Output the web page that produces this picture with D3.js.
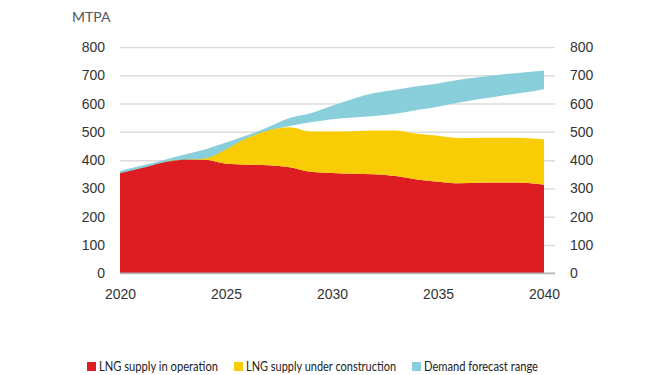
<!DOCTYPE html>
<html>
<head>
<meta charset="utf-8">
<script src="https://cdn.jsdelivr.net/npm/d3@7"></script>
<style>
  body { margin: 0; background: #fff; }
  svg { display: block; font-family: Lato, "Noto Sans", sans-serif; }
  .axis path { display: none; }
  .axis text { fill: #333; font-size: 14px; }
</style>
</head>
<body>
<div id="chart"></div>
<script>
const years = d3.range(2020, 2041);
const supplyInOperation = [354, 371, 391, 401, 401, 387, 384, 382, 375, 359, 355, 352, 350, 344, 332, 324, 318, 320, 321, 320, 313];
const supplyUnderConstruction = [0, 0, 0, 0, 5, 51, 94, 123, 141, 142, 146, 150, 155, 161, 161, 162, 160, 159, 158, 158, 161];
const demandLow = [350, 366, 386, 398, 402, 432, 474, 503, 521, 534, 545, 551, 556, 564, 577, 589, 604, 616, 628, 638, 651];
const demandHigh = [362, 380, 399, 419, 438, 462, 488, 517, 549, 566, 592, 617, 637, 649, 661, 671, 684, 694, 703, 710, 717];
const yTicks = [0, 100, 200, 300, 400, 500, 600, 700, 800];
const xTicks = [2020, 2025, 2030, 2035, 2040];
const legendLabels = ['LNG supply in operation', 'LNG supply under construction', 'Demand forecast range'];

const width = 667;
const height = 375;
const colors = { operation: '#dd1d21', construction: '#f8cd06', demand: '#89cfdb' };

const svg = d3.select('#chart').append('svg').attr('width', width).attr('height', height);

const x = d3.scaleLinear().domain([2020, 2040]).range([120, 544]);
const y = d3.scaleLinear().domain([0, 800]).range([273.3, 47]);
const gridRight = 555;

// grid + left axis
const leftAxis = svg.append('g')
    .attr('class', 'axis')
    .attr('transform', 'translate(120,0)')
    .call(d3.axisLeft(y).tickValues(yTicks).tickSize(-(gridRight - 120)).tickPadding(15));
leftAxis.selectAll('line').attr('stroke', '#dcdcdc').attr('stroke-width', 1.5);

svg.append('g')
    .attr('class', 'axis')
    .attr('transform', `translate(${gridRight},0)`)
    .call(d3.axisRight(y).tickValues(yTicks).tickSize(0).tickPadding(15));

// demand band
const rows = years.map((yr, i) => ({
    year: yr,
    operation: supplyInOperation[i],
    construction: supplyUnderConstruction[i],
    low: demandLow[i],
    high: demandHigh[i]
}));

const curve = d3.curveMonotoneX;

svg.append('path')
    .datum(rows)
    .attr('fill', colors.demand)
    .attr('d', d3.area().curve(curve).x(d => x(d.year)).y0(d => y(d.low)).y1(d => y(d.high)));

// stacked supply
const stack = d3.stack().keys(['operation', 'construction'])(rows);
svg.selectAll('.supply')
    .data(stack)
    .enter()
    .append('path')
    .attr('class', 'supply')
    .attr('fill', d => colors[d.key])
    .attr('d', d3.area().curve(curve).x(d => x(d.data.year)).y0(d => y(d[0])).y1(d => y(d[1])));

// baseline
svg.append('line')
    .attr('x1', 120).attr('x2', gridRight)
    .attr('y1', y(0)).attr('y2', y(0))
    .attr('stroke', '#b3b3b3').attr('stroke-width', 1.5);

// x axis
svg.append('g')
    .attr('class', 'axis')
    .attr('transform', `translate(0,${y(0)})`)
    .call(d3.axisBottom(x).tickValues(xTicks).tickFormat(d3.format('d')).tickSize(0).tickPadding(16));

// unit label
svg.append('text')
    .attr('x', 72).attr('y', 22)
    .attr('fill', '#555')
    .style('font-size', '14px')
    .text('MTPA');

// legend
const legendX = [87, 234, 412];
const legendWidths = [119, 150, 114];
const legendColors = [colors.operation, colors.construction, colors.demand];
const legend = svg.selectAll('.legend')
    .data(legendLabels)
    .enter()
    .append('g')
    .attr('class', 'legend')
    .attr('transform', (d, i) => `translate(${legendX[i]},362)`);
legend.append('rect')
    .attr('width', 9).attr('height', 9)
    .attr('fill', (d, i) => legendColors[i]);
legend.append('text')
    .attr('x', 12).attr('y', 9)
    .attr('fill', '#222')
    .attr('textLength', (d, i) => legendWidths[i])
    .attr('lengthAdjust', 'spacingAndGlyphs')
    .style('font-size', '13px')
    .text(d => d);
</script>
</body>
</html>
